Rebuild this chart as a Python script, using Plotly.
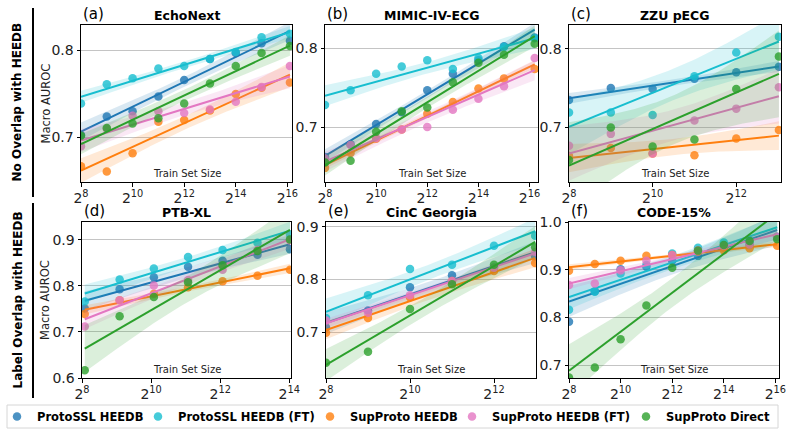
import numpy as np
import plotly.graph_objects as go

W, H = 790, 434

# ---------------- data ----------------
series_names = ["ProtoSSL HEEDB", "ProtoSSL HEEDB (FT)", "SupProto HEEDB",
                "SupProto HEEDB (FT)", "SupProto Direct"]
series_colors = ["#1f77b4", "#17becf", "#ff7f0e", "#e377c2", "#2ca02c"]

panel_titles = ["EchoNext", "MIMIC-IV-ECG", "ZZU pECG", "PTB-XL", "CinC Georgia", "CODE-15%"]
panel_letters = ["(a)", "(b)", "(c)", "(d)", "(e)", "(f)"]

# log2(train set size)
x_a = [8, 9, 10, 11, 12, 13, 14, 15, 16.1]
x_b = [8, 9, 10, 11, 12, 13, 14, 15, 16.2]
x_c = [8, 9, 10, 11, 12, 13.02]
x_d = [8.08, 9.09, 10.08, 11.07, 12.07, 13.08, 14.02]
x_e = [8, 9, 10, 11, 12, 12.98]
x_f = [8, 9, 10, 11, 12, 13, 14, 15, 16.07]

# Macro AUROC, series order as series_names
auroc_a = [
    [0.703, 0.724, 0.730, 0.747, 0.766, 0.790, 0.797, 0.808, 0.811],
    [0.739, 0.761, 0.768, 0.779, 0.782, 0.790, 0.798, 0.815, 0.819],
    [0.667, 0.661, 0.682, 0.718, 0.720, 0.731, 0.750, 0.757, 0.763],
    [0.690, 0.710, 0.725, 0.730, 0.728, 0.732, 0.741, 0.758, 0.782],
    [0.702, 0.711, 0.716, 0.722, 0.739, 0.762, 0.782, 0.797, 0.805],
]
auroc_b = [
    [0.662, 0.678, 0.704, 0.719, 0.747, 0.768, 0.785, 0.803, 0.814],
    [0.728, 0.747, 0.768, 0.777, 0.785, 0.774, 0.788, 0.802, 0.813],
    [0.648, 0.667, 0.685, 0.697, 0.717, 0.732, 0.749, 0.762, 0.774],
    [0.660, 0.677, 0.686, 0.697, 0.700, 0.722, 0.736, 0.752, 0.788],
    [0.655, 0.657, 0.694, 0.720, 0.725, 0.757, 0.782, 0.792, 0.806],
]
auroc_c = [
    [0.735, 0.750, 0.749, 0.762, 0.770, 0.777],
    [0.719, 0.719, 0.716, 0.765, 0.795, 0.815],
    [0.664, 0.674, 0.667, 0.665, 0.686, 0.697],
    [0.677, 0.692, 0.667, 0.709, 0.724, 0.751],
    [0.659, 0.700, 0.676, 0.685, 0.749, 0.790],
]
auroc_d = [
    [0.751, 0.793, 0.819, 0.842, 0.855, 0.868, 0.880],
    [0.766, 0.814, 0.838, 0.863, 0.878, 0.894, 0.912],
    [0.739, 0.769, 0.783, 0.797, 0.810, 0.822, 0.835],
    [0.712, 0.769, 0.801, 0.813, 0.835, 0.878, 0.899],
    [0.617, 0.734, 0.776, 0.808, 0.845, 0.876, 0.901],
]
auroc_e = [
    [0.709, 0.741, 0.785, 0.808, 0.822, 0.844],
    [0.727, 0.770, 0.820, 0.828, 0.864, 0.883],
    [0.699, 0.727, 0.766, 0.797, 0.816, 0.831],
    [0.722, 0.737, 0.770, 0.797, 0.822, 0.852],
    [0.642, 0.663, 0.744, 0.791, 0.828, 0.861],
]
auroc_f = [
    [0.791, 0.855, 0.901, 0.906, 0.919, 0.929, 0.947, 0.953, 0.969],
    [0.816, 0.854, 0.892, 0.910, 0.934, 0.946, 0.957, 0.961, 0.968],
    [0.898, 0.912, 0.919, 0.929, 0.931, 0.938, 0.941, 0.945, 0.950],
    [0.868, 0.871, 0.899, 0.919, 0.931, 0.941, 0.950, 0.953, 0.969],
    [0.674, 0.695, 0.754, 0.825, 0.904, 0.940, 0.952, 0.960, 0.964],
]

x_tick_powers = [[8, 10, 12, 14, 16], [8, 10, 12, 14, 16], [8, 10, 12],
                 [8, 10, 12, 14], [8, 10, 12], [8, 10, 12, 14, 16]]
y_ticks = [[0.7, 0.8], [0.7, 0.8], [0.7, 0.8],
           [0.6, 0.7, 0.8, 0.9], [0.7, 0.8, 0.9], [0.7, 0.8, 0.9, 1.0]]
x_ranges = [[8, 16.18], [8, 16.33], [8, 13.07], [8, 14.05], [8, 13.0], [8, 16.14]]
y_ranges = [[0.649, 0.829], [0.630, 0.830], [0.631, 0.830],
            [0.600, 0.939], [0.613, 0.909], [0.673, 1.000]]

row_labels = ["No Overlap with HEEDB", "Label Overlap with HEEDB"]
x_label = "Train Set Size"
y_label = "Macro AUROC"

panels_x = [x_a, x_b, x_c, x_d, x_e, x_f]
panels_y = [auroc_a, auroc_b, auroc_c, auroc_d, auroc_e, auroc_f]

# ---------------- layout geometry (pixels) ----------------
col_px = [[(81, 292), (325, 538), (569, 781)],
          [(82, 291), (326, 536), (569, 779)]]
row_px = [(25, 182), (222, 378)]


def px_x(p):
    return p / W


def px_y(p):
    return 1 - p / H


T_CRIT = {3: 3.182, 4: 2.776, 5: 2.571, 6: 2.447, 7: 2.365, 8: 2.306}


def rgba(hexc, a):
    h = hexc.lstrip("#")
    r, g, b = int(h[0:2], 16), int(h[2:4], 16), int(h[4:6], 16)
    return f"rgba({r},{g},{b},{a})"


fig = go.Figure()
FONT = "DejaVu Sans"
annotations = []
shapes = []

for p in range(6):
    r, c = divmod(p, 3)
    ax = "" if p == 0 else str(p + 1)
    xs = np.array(panels_x[p], dtype=float)
    for s in range(5):
        ys = np.array(panels_y[p][s], dtype=float)
        col = series_colors[s]
        legend_id = "legend" if s == 0 else f"legend{s + 1}"
        # scatter points
        fig.add_trace(go.Scatter(
            x=xs, y=ys, mode="markers", name=f"<b>{series_names[s]}</b>",
            marker=dict(color=col, size=8.5, opacity=0.8, line=dict(width=0)),
            xaxis="x" + ax, yaxis="y" + ax, showlegend=(p == 0), legend=legend_id,
            hoverinfo="skip"))
        # linear regression + 95% CI
        n = len(xs)
        slope, icpt = np.polyfit(xs, ys, 1)
        grid = np.linspace(xs.min(), xs.max(), 100)
        yhat = icpt + slope * grid
        resid = ys - (icpt + slope * xs)
        sres = np.sqrt(np.sum(resid ** 2) / (n - 2))
        sxx = np.sum((xs - xs.mean()) ** 2)
        se = sres * np.sqrt(1.0 / n + (grid - xs.mean()) ** 2 / sxx)
        half = T_CRIT[n - 2] * se
        fig.add_trace(go.Scatter(
            x=np.concatenate([grid, grid[::-1]]),
            y=np.concatenate([yhat + half, (yhat - half)[::-1]]),
            mode="lines", fill="toself", fillcolor=rgba(col, 0.17),
            line=dict(width=0), xaxis="x" + ax, yaxis="y" + ax,
            showlegend=False, hoverinfo="skip"))
        fig.add_trace(go.Scatter(
            x=grid, y=yhat, mode="lines", line=dict(color=col, width=2),
            xaxis="x" + ax, yaxis="y" + ax, showlegend=False, hoverinfo="skip"))

    x0, x1 = col_px[r][c]
    y0, y1 = row_px[r]
    fig.layout["xaxis" + ax] = dict(
        domain=[px_x(x0), px_x(x1)], range=x_ranges[p], anchor="y" + ax,
        tickvals=x_tick_powers[p], automargin=False,
        ticktext=[f"2<sup>{k}</sup>" for k in x_tick_powers[p]],
        showgrid=False, zeroline=False, showline=True, linecolor="black",
        linewidth=1, mirror=True, ticks="outside", ticklen=3.5, tickcolor="black",
        tickfont=dict(family=FONT, size=14, color="#222"))
    fig.layout["yaxis" + ax] = dict(
        domain=[px_y(y1), px_y(y0)], range=y_ranges[p], anchor="x" + ax,
        tickvals=y_ticks[p], tickformat=".1f", automargin=False,
        showgrid=True, gridcolor="#c4c4c4", gridwidth=1, zeroline=False,
        showline=True, linecolor="black", linewidth=1, mirror=True,
        ticks="outside", ticklen=3.5, tickcolor="black",
        tickfont=dict(family=FONT, size=14, color="#222"))

    # title, letter, x label
    annotations.append(dict(
        x=px_x((x0 + x1) / 2), y=px_y(y0 - 10), xref="paper", yref="paper",
        text=f"<b>{panel_titles[p]}</b>", showarrow=False,
        font=dict(family=FONT, size=12.5, color="black"),
        xanchor="center", yanchor="middle"))
    annotations.append(dict(
        x=px_x(x0), y=px_y(y0 - 11), xref="paper", yref="paper",
        text=panel_letters[p], showarrow=False,
        font=dict(family=FONT, size=15, color="black"),
        xanchor="left", yanchor="middle"))
    annotations.append(dict(
        x=px_x((x0 + x1) / 2), y=px_y(y1 - 1), xref="paper", yref="paper",
        text=x_label, showarrow=False,
        font=dict(family=FONT, size=10, color="#222"),
        xanchor="center", yanchor="bottom"))

# y labels and row labels
for r in range(2):
    y0, y1 = row_px[r]
    annotations.append(dict(
        x=px_x(45), y=px_y((y0 + y1) / 2), xref="paper", yref="paper",
        text=y_label, showarrow=False, textangle=-90,
        font=dict(family=FONT, size=11.5, color="#222"),
        xanchor="center", yanchor="middle"))
line_spans = [(8, 197), (203, 398)]
for r in range(2):
    a, b = line_spans[r]
    annotations.append(dict(
        x=px_x(17), y=px_y((a + b) / 2), xref="paper", yref="paper",
        text=f"<b>{row_labels[r]}</b>", showarrow=False, textangle=-90,
        font=dict(family=FONT, size=12, color="black"),
        xanchor="center", yanchor="middle"))
    shapes.append(dict(type="line", xref="paper", yref="paper",
                       x0=px_x(33), x1=px_x(33), y0=px_y(a), y1=px_y(b),
                       line=dict(color="black", width=2)))

# legend frame
shapes.append(dict(type="rect", xref="paper", yref="paper",
                   x0=px_x(7), x1=px_x(778), y0=px_y(428), y1=px_y(405),
                   line=dict(color="#d6d6d6", width=1), fillcolor="rgba(0,0,0,0)",
                   layer="below"))

legend_text_px = [37, 178, 350, 492, 666]
leg_layout = {}
for s in range(5):
    key = "legend" if s == 0 else f"legend{s + 1}"
    leg_layout[key] = dict(
        x=px_x(legend_text_px[s] - 40), y=px_y(416.5), xanchor="left", yanchor="middle",
        orientation="h", bgcolor="rgba(0,0,0,0)", borderwidth=0,
        font=dict(family=FONT, size=11.5, color="black"),
        itemclick=False, itemdoubleclick=False)

fig.update_layout(
    width=W, height=H, margin=dict(l=0, r=0, t=0, b=0, autoexpand=False),
    paper_bgcolor="white", plot_bgcolor="white",
    annotations=annotations, shapes=shapes, **leg_layout)

fig.write_html("out.html")
